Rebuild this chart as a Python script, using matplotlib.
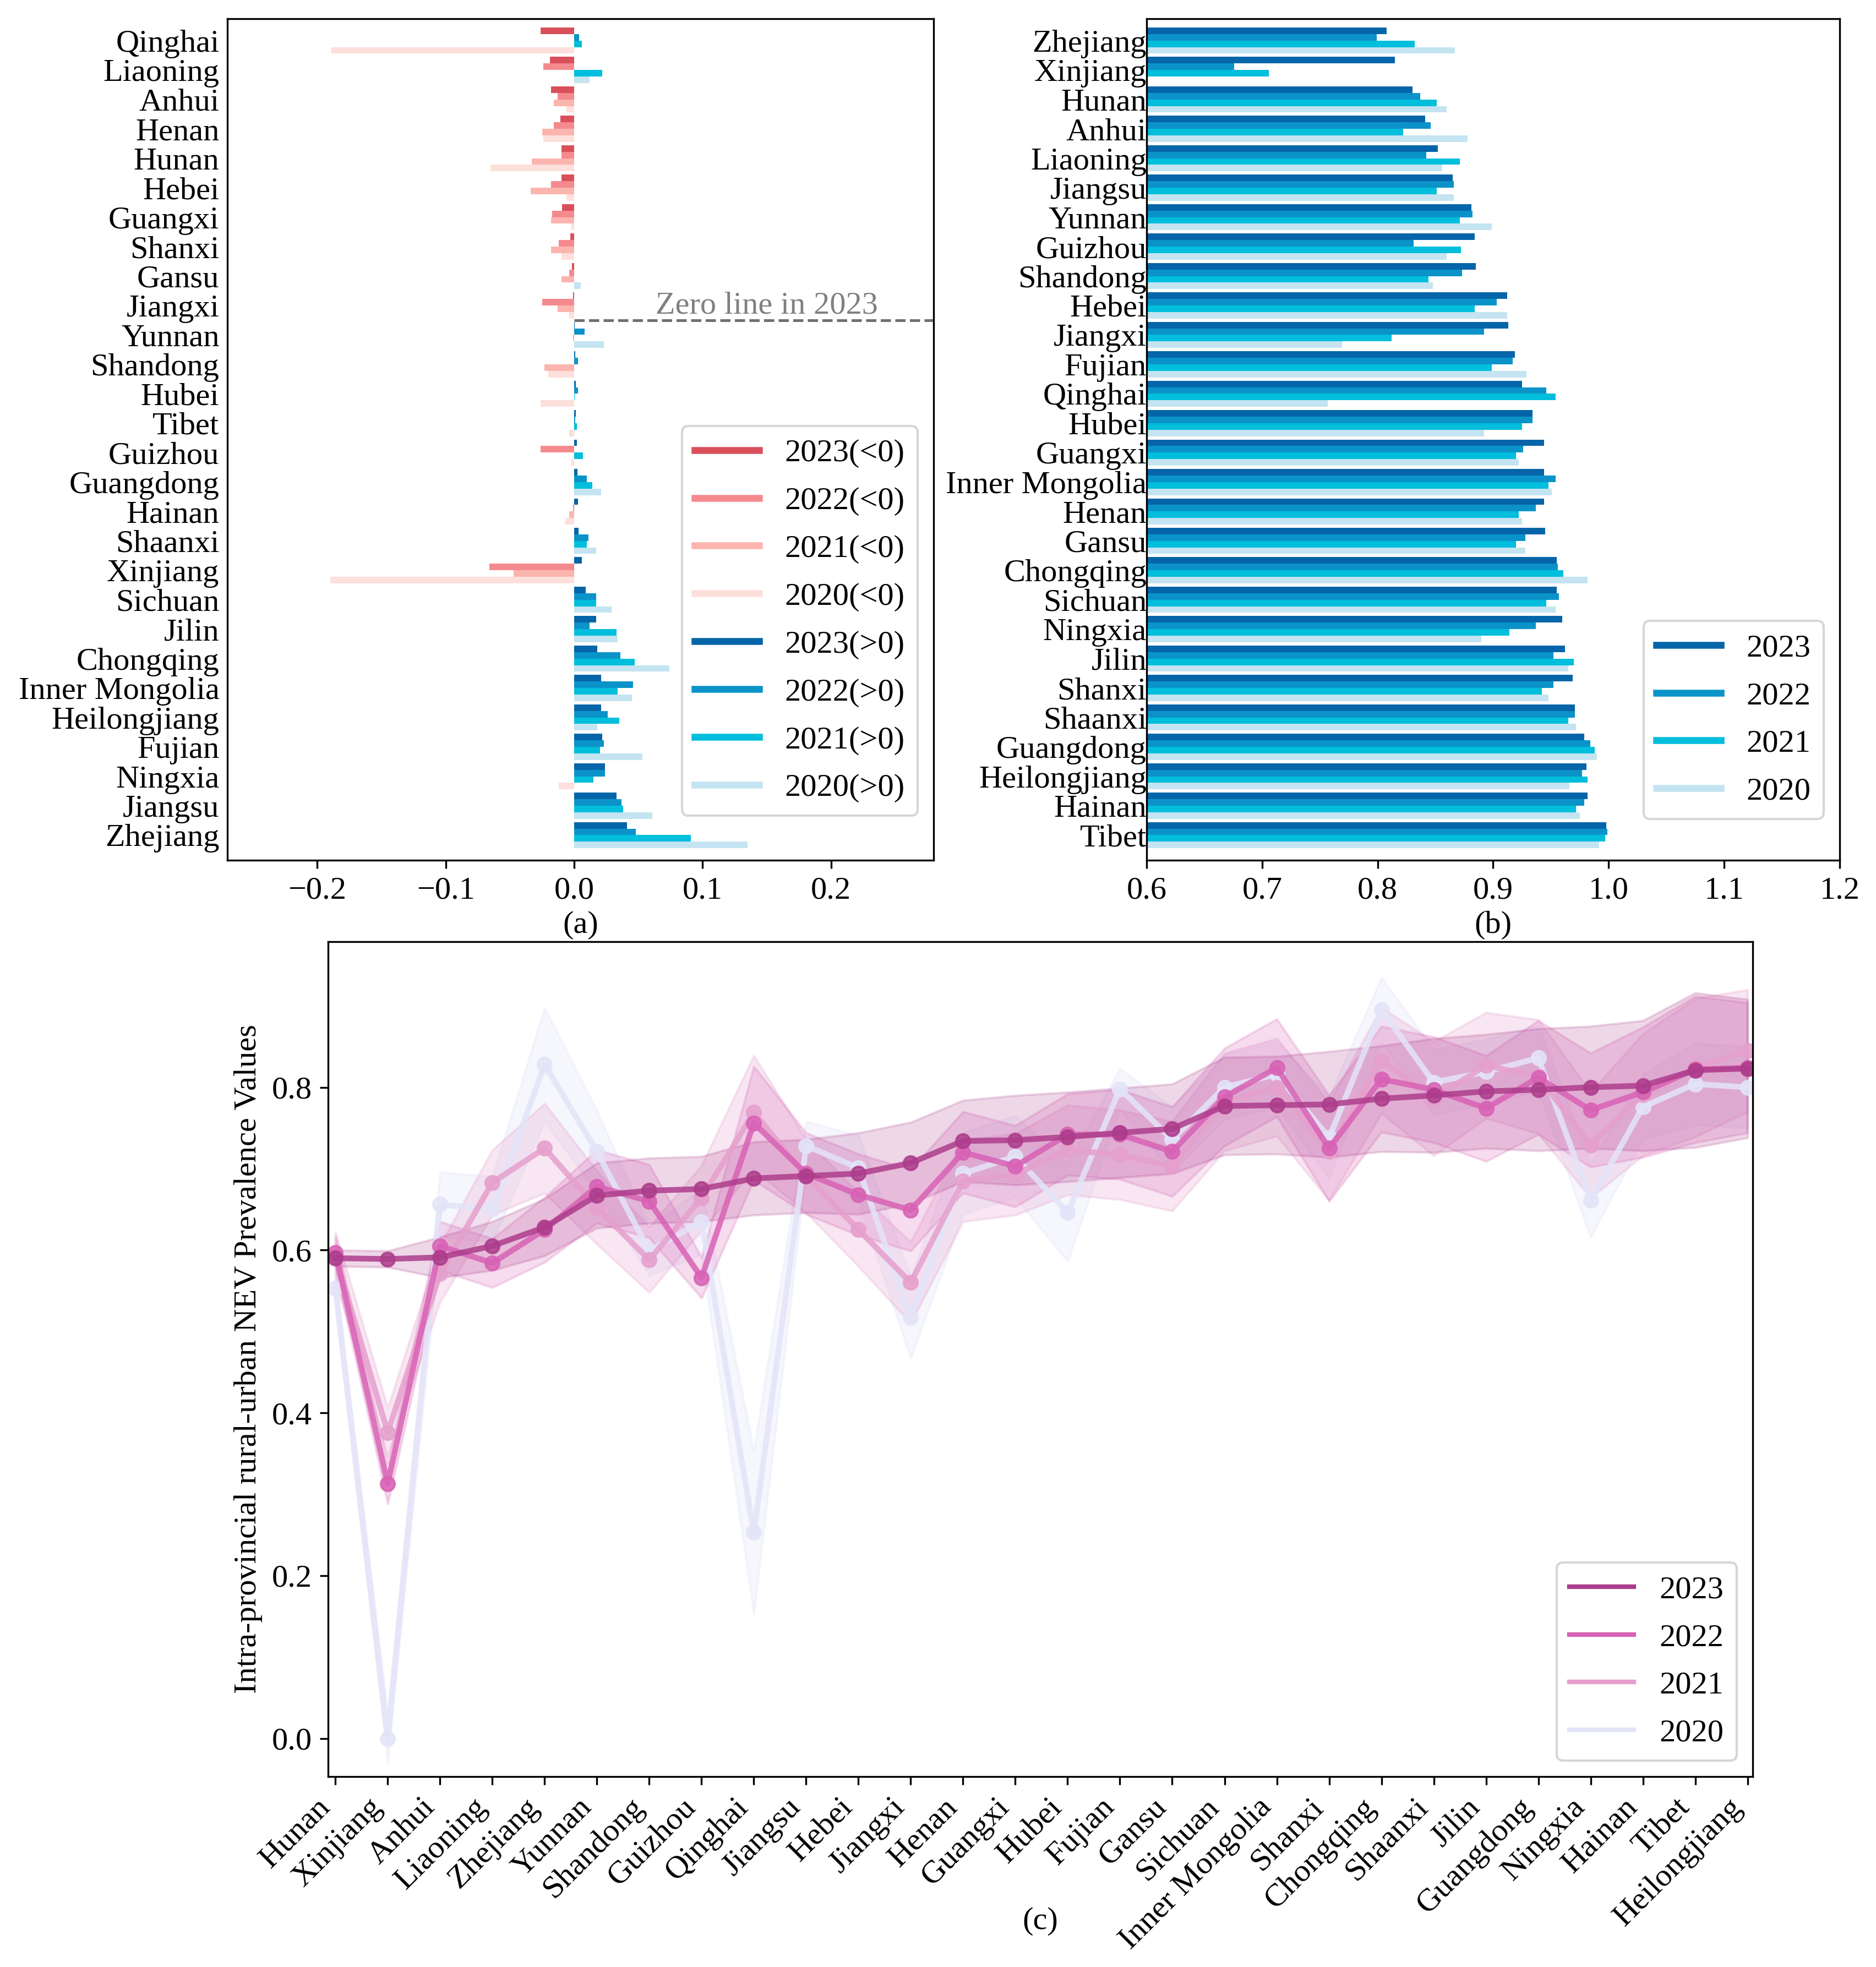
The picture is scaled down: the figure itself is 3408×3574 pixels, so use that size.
import numpy as np
import matplotlib.pyplot as plt
from matplotlib.lines import Line2D

plt.rcParams['font.family'] = ['Liberation Serif', 'DejaVu Serif']
plt.rcParams['font.size'] = 14

years = ['2023', '2022', '2021', '2020']

# ---- (a) change of prevalence, sorted by 2023 ----
prov_a = ['Qinghai', 'Liaoning', 'Anhui', 'Henan', 'Hunan', 'Hebei', 'Guangxi',
          'Shanxi', 'Gansu', 'Jiangxi', 'Yunnan', 'Shandong', 'Hubei', 'Tibet',
          'Guizhou', 'Guangdong', 'Hainan', 'Shaanxi', 'Xinjiang', 'Sichuan',
          'Jilin', 'Chongqing', 'Inner Mongolia', 'Heilongjiang', 'Fujian',
          'Ningxia', 'Jiangsu', 'Zhejiang']
a2023 = [-0.026, -0.019, -0.018, -0.0105, -0.010, -0.0098, -0.0095, -0.003,
         -0.0015, -0.001, 0.0005, 0.001, 0.0015, 0.0015, 0.002, 0.0025, 0.003,
         0.0035, 0.006, 0.009, 0.017, 0.018, 0.021, 0.021, 0.022, 0.024, 0.033,
         0.041]
a2022 = [0.004, -0.024, -0.013, -0.016, -0.010, -0.018, -0.017, -0.012, -0.004,
         -0.025, 0.008, 0.003, 0.003, 0.001, -0.026, 0.010, -0.001, 0.011,
         -0.066, 0.017, 0.012, 0.036, 0.046, 0.026, 0.023, 0.024, 0.037, 0.048]
a2021 = [0.006, 0.022, -0.016, -0.025, -0.033, -0.034, -0.018, -0.018, -0.010,
         -0.013, -0.001, -0.023, 0.0005, 0.002, 0.007, 0.014, -0.004, 0.010,
         -0.047, 0.017, 0.033, 0.047, 0.034, 0.035, 0.020, 0.015, 0.038, 0.091]
a2020 = [-0.189, 0.012, -0.006, -0.024, -0.065, -0.006, -0.002, -0.010, 0.005,
         -0.004, 0.023, -0.020, -0.026, -0.004, -0.002, 0.021, -0.007, 0.017,
         -0.190, 0.029, 0.034, 0.074, 0.045, 0.018, 0.053, -0.012, 0.061, 0.135]

# ---- (b) prevalence, sorted by 2023 ----
prov_b = ['Zhejiang', 'Xinjiang', 'Hunan', 'Anhui', 'Liaoning', 'Jiangsu',
          'Yunnan', 'Guizhou', 'Shandong', 'Hebei', 'Jiangxi', 'Fujian',
          'Qinghai', 'Hubei', 'Guangxi', 'Inner Mongolia', 'Henan', 'Gansu',
          'Chongqing', 'Sichuan', 'Ningxia', 'Jilin', 'Shanxi', 'Shaanxi',
          'Guangdong', 'Heilongjiang', 'Hainan', 'Tibet']
b2023 = [0.808, 0.815, 0.830, 0.841, 0.852, 0.865, 0.881, 0.884, 0.885, 0.912,
         0.913, 0.919, 0.925, 0.934, 0.944, 0.944, 0.944, 0.945, 0.955, 0.955,
         0.960, 0.962, 0.969, 0.971, 0.979, 0.981, 0.982, 0.998]
b2022 = [0.799, 0.676, 0.837, 0.846, 0.842, 0.866, 0.882, 0.831, 0.873, 0.903,
         0.892, 0.917, 0.946, 0.934, 0.926, 0.954, 0.937, 0.928, 0.956, 0.957,
         0.937, 0.952, 0.952, 0.971, 0.984, 0.977, 0.979, 0.999]
b2021 = [0.832, 0.706, 0.851, 0.822, 0.871, 0.851, 0.871, 0.872, 0.844, 0.884,
         0.812, 0.899, 0.954, 0.925, 0.920, 0.948, 0.922, 0.920, 0.961, 0.946,
         0.914, 0.970, 0.942, 0.965, 0.988, 0.982, 0.972, 0.997]
b2020 = [0.867, 0.000, 0.860, 0.878, 0.856, 0.866, 0.899, 0.860, 0.848, 0.912,
         0.769, 0.929, 0.757, 0.892, 0.922, 0.951, 0.925, 0.928, 0.982, 0.954,
         0.890, 0.965, 0.948, 0.972, 0.990, 0.966, 0.975, 0.992]

# ---- (c) intra-provincial rural-urban values, sorted by 2023 ----
prov_c = ['Hunan', 'Xinjiang', 'Anhui', 'Liaoning', 'Zhejiang', 'Yunnan',
          'Shandong', 'Guizhou', 'Qinghai', 'Jiangsu', 'Hebei', 'Jiangxi',
          'Henan', 'Guangxi', 'Hubei', 'Fujian', 'Gansu', 'Sichuan',
          'Inner Mongolia', 'Shanxi', 'Chongqing', 'Shaanxi', 'Jilin',
          'Guangdong', 'Ningxia', 'Hainan', 'Tibet', 'Heilongjiang']
c2023 = [0.590, 0.589, 0.591, 0.605, 0.628, 0.667, 0.673, 0.675, 0.688, 0.691,
         0.694, 0.707, 0.734, 0.735, 0.739, 0.744, 0.749, 0.777, 0.778, 0.779,
         0.786, 0.790, 0.795, 0.797, 0.800, 0.802, 0.821, 0.823]
c2022 = [0.597, 0.313, 0.605, 0.584, 0.625, 0.678, 0.660, 0.566, 0.756, 0.694,
         0.668, 0.649, 0.720, 0.703, 0.742, 0.742, 0.721, 0.788, 0.824, 0.725,
         0.810, 0.797, 0.774, 0.812, 0.772, 0.794, 0.822, 0.824]
c2021 = [0.592, 0.376, 0.571, 0.683, 0.725, 0.652, 0.588, 0.664, 0.769, 0.691,
         0.625, 0.560, 0.685, 0.693, 0.723, 0.717, 0.703, 0.782, 0.800, 0.721,
         0.833, 0.786, 0.827, 0.813, 0.729, 0.791, 0.824, 0.845]
c2020 = [0.553, 0.000, 0.656, 0.650, 0.828, 0.721, 0.599, 0.635, 0.253, 0.728,
         0.701, 0.517, 0.694, 0.715, 0.646, 0.798, 0.736, 0.800, 0.816, 0.738,
         0.895, 0.806, 0.819, 0.836, 0.661, 0.776, 0.804, 0.800]
# half widths of the shaded bands
e2023 = [0.010, 0.010, 0.025, 0.030, 0.035, 0.040, 0.040, 0.040, 0.045, 0.045,
         0.050, 0.050, 0.050, 0.055, 0.055, 0.055, 0.055, 0.060, 0.060, 0.065,
         0.065, 0.070, 0.070, 0.075, 0.075, 0.080, 0.095, 0.085]
e2022 = [0.020, 0.025, 0.030, 0.030, 0.040, 0.045, 0.045, 0.025, 0.070, 0.050,
         0.050, 0.050, 0.050, 0.050, 0.050, 0.055, 0.055, 0.060, 0.060, 0.065,
         0.065, 0.065, 0.065, 0.070, 0.070, 0.080, 0.090, 0.080]
e2021 = [0.030, 0.030, 0.035, 0.040, 0.055, 0.045, 0.040, 0.040, 0.070, 0.045,
         0.045, 0.050, 0.050, 0.050, 0.055, 0.055, 0.055, 0.060, 0.060, 0.060,
         0.065, 0.070, 0.065, 0.070, 0.065, 0.075, 0.085, 0.075]
e2020 = [0.020, 0.030, 0.040, 0.040, 0.070, 0.050, 0.030, 0.040, 0.100, 0.030,
         0.040, 0.050, 0.050, 0.050, 0.060, 0.025, 0.040, 0.040, 0.040, 0.050,
         0.040, 0.040, 0.040, 0.040, 0.045, 0.040, 0.050, 0.050]

neg_colors = ['#d9505a', '#f58a8e', '#fbb5ae', '#fddfdb']
pos_colors = ['#0565a8', '#0b93c9', '#00bedc', '#c3e4f0']
line_colors = ['#ad3d8c', '#d862b5', '#e6a0cd', '#e4e4f9']
band_alpha = [0.2, 0.22, 0.25, 0.3]

fig = plt.figure(figsize=(3408 / 300, 3574 / 300), dpi=300)
ax_a = fig.add_axes([0.1212, 0.5627, 0.3765, 0.4278])
ax_b = fig.add_axes([0.6112, 0.5627, 0.3694, 0.4278])
ax_c = fig.add_axes([0.1749, 0.0968, 0.7594, 0.4245])

h = 0.222
ypos = np.arange(len(prov_a))

# (a)
for k, vals in enumerate([a2023, a2022, a2021, a2020]):
    vals = np.array(vals)
    cols = np.where(vals < 0, neg_colors[k], pos_colors[k])
    ax_a.barh(ypos + (k - 1.5) * h, vals, height=h, color=cols)
ax_a.set_xlim(-0.27, 0.28)
ax_a.set_ylim(27.85, -0.744)
ax_a.set_yticks(ypos, prov_a)
ax_a.set_xticks([-0.2, -0.1, 0.0, 0.1, 0.2])
ax_a.tick_params(axis='y', length=0, pad=3.5)
ax_a.hlines(9.5, 0, 0.28, colors='#707070', linestyles='--', lw=1.2)
ax_a.text(0.15, 9.5, 'Zero line in 2023', color='#808080', ha='center', va='bottom')
handles_a = [Line2D([], [], color=c, lw=3) for c in neg_colors + pos_colors]
labels_a = [y + '(<0)' for y in years] + [y + '(>0)' for y in years]
ax_a.legend(handles_a, labels_a, loc='lower right', bbox_to_anchor=(1, 0.034),
            labelspacing=0.58)
ax_a.text(0.5, -0.077, '(a)', transform=ax_a.transAxes, ha='center', va='center')

# (b)
for k, vals in enumerate([b2023, b2022, b2021, b2020]):
    ax_b.barh(ypos + (k - 1.5) * h, vals, height=h, color=pos_colors[k], label=years[k])
ax_b.set_xlim(0.6, 1.2)
ax_b.set_ylim(27.85, -0.744)
ax_b.set_yticks(ypos, prov_b)
ax_b.set_xticks(np.round(np.arange(0.6, 1.21, 0.1), 1))
ax_b.tick_params(axis='y', length=0, pad=0)
handles_b = [Line2D([], [], color=c, lw=3) for c in pos_colors]
ax_b.legend(handles_b, years, loc='lower right', bbox_to_anchor=(1, 0.03),
            labelspacing=0.58)
ax_b.text(0.5, -0.077, '(b)', transform=ax_b.transAxes, ha='center', va='center')

# (c)
xc = np.arange(len(prov_c))
series = [(c2020, e2020, 3), (c2021, e2021, 2), (c2022, e2022, 1), (c2023, e2023, 0)]
for vals, errs, k in series:
    vals = np.array(vals)
    errs = np.array(errs)
    col = line_colors[k]
    ax_c.fill_between(xc, vals - errs, vals + errs, color=col, alpha=band_alpha[k], lw=1)
    ax_c.plot(xc, vals, color=col, lw=2.5, alpha=0.85, marker='o', markersize=6)
ax_c.set_xlim(-0.14, 27.1)
ax_c.set_ylim(-0.047, 0.979)
ax_c.set_yticks([0.0, 0.2, 0.4, 0.6, 0.8])
ax_c.set_xticks(xc)
ax_c.set_xticklabels(prov_c, rotation=45, ha='right')
ax_c.set_ylabel('Intra-provincial rural-urban NEV Prevalence Values')
handles_c = [Line2D([], [], color=c, lw=2) for c in line_colors]
ax_c.legend(handles_c, years, loc='lower right', labelspacing=0.58)
ax_c.text(0.5, -0.173, '(c)', transform=ax_c.transAxes, ha='center', va='center')

plt.savefig('out.png', dpi=300)
